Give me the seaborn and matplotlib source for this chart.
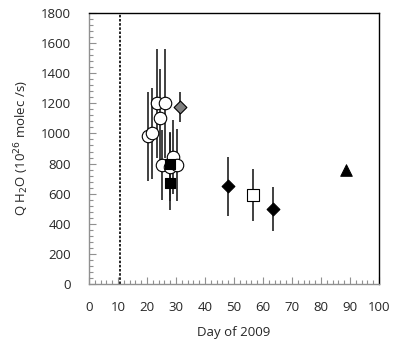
import matplotlib
matplotlib.use("Agg")
import matplotlib.pyplot as plt
from matplotlib.ticker import MultipleLocator
import seaborn as sns
import pandas as pd

# open circles
circ_day = [20.4, 21.6, 23.3, 24.4, 26.3, 25.3, 28.0, 28.9, 30.3]
circ_q = [980, 1000, 1200, 1100, 1200, 790, 780, 845, 790]
circ_err = [295, 300, 360, 330, 360, 235, 230, 245, 240]
# black squares
sq_day = [27.8, 27.8]
sq_q = [795, 673]
sq_err = [205, 180]
# grey diamond
gd_day = [31.3]
gd_q = [1178]
gd_err = [100]
# black diamonds
bd_day = [47.9, 63.4]
bd_q = [648, 496]
bd_err = [195, 146]
# open square
os_day = [56.4]
os_q = [592]
os_err = [172]
# black triangle
tri_day = [88.6]
tri_q = [757]

perihelion = 10.6

sns.set_style("white")
plt.rcParams['font.family'] = ['Open Sans', 'DejaVu Sans']

fig = plt.figure(figsize=(3.98, 3.45), dpi=100)
ax = fig.add_axes([89 / 398, 1 - 284 / 345, 290 / 398, 271 / 345])

groups = [
    (circ_day, circ_q, circ_err, 'o', 'white', 9),
    (sq_day, sq_q, sq_err, 's', 'black', 6.5),
    (gd_day, gd_q, gd_err, 'D', '#808080', 6.5),
    (bd_day, bd_q, bd_err, 'D', 'black', 6.5),
    (os_day, os_q, os_err, 's', 'white', 8.5),
]
for day, q, err, mk, fc, ms in groups:
    ax.errorbar(day, q, yerr=err, fmt='none', ecolor='#202020', elinewidth=1.2, zorder=2)
    df = pd.DataFrame({'day': day, 'q': q})
    sns.scatterplot(data=df, x='day', y='q', marker=mk, color=fc, edgecolor='black',
                    linewidth=0.8, s=ms ** 2, ax=ax, zorder=3, legend=False)

tri = pd.DataFrame({'day': tri_day, 'q': tri_q})
sns.scatterplot(data=tri, x='day', y='q', marker='^', color='black', edgecolor='black',
                s=70, ax=ax, zorder=3, legend=False)

ax.axvline(perihelion, color='black', linestyle=(0, (1.5, 1)), linewidth=1.2, zorder=1)

ax.set_xlim(0, 100)
ax.set_ylim(0, 1800)
ax.xaxis.set_major_locator(MultipleLocator(10))
ax.xaxis.set_minor_locator(MultipleLocator(2))
ax.yaxis.set_major_locator(MultipleLocator(200))
ax.yaxis.set_minor_locator(MultipleLocator(40))
ax.tick_params(axis='both', which='both', bottom=True, left=True, top=False, right=False)
ax.tick_params(axis='both', which='major', direction='in', length=5, width=0.8,
               color='#909090', labelsize=9.5)
ax.tick_params(axis='x', which='major', pad=12)
ax.tick_params(axis='y', which='major', pad=13)
ax.tick_params(axis='both', which='minor', direction='in', length=3, width=0.8,
               color='#909090')

for s in ['left', 'bottom']:
    ax.spines[s].set_color('#909090')
    ax.spines[s].set_linewidth(1.0)
for s in ['top', 'right']:
    ax.spines[s].set_color('black')
    ax.spines[s].set_linewidth(1.0)

ax.set_xlabel('Day of 2009', fontsize=9.5, labelpad=9)
ax.set_ylabel('Q H$_2$O (10$^{26}$ molec /s)', fontsize=9.5, labelpad=7)

fig.savefig('out.png', dpi=100)
